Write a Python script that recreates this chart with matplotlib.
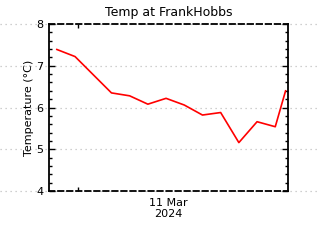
import matplotlib
matplotlib.use('Agg')
import matplotlib.pyplot as plt
import matplotlib.transforms as mtransforms
import numpy as np

# hours relative to 11 Mar 2024 00:00
hours = [-3.5, -0.5, 5.5, 8.5, 11.5, 14.5, 17.5, 20.5, 23.5, 26.5, 29.5, 32.5, 34.2]
temps = [7.39, 7.22, 6.35, 6.28, 6.08, 6.22, 6.06, 5.82, 5.88, 5.16, 5.66, 5.54, 6.40]
yticks = [4, 5, 6, 7, 8]

fig = plt.figure(figsize=(3.2, 2.4), dpi=100)
ax = fig.add_axes([0.153, 0.204, 0.747, 0.696])

# dotted grid across the whole figure width
trans = mtransforms.blended_transform_factory(fig.transFigure, ax.transData)
for yv in yticks:
    ax.plot([0, 1], [yv, yv], transform=trans, color='#c0c0c0', linestyle=(0, (1, 3)),
            linewidth=0.9, clip_on=False, zorder=0)

ax.plot(hours, temps, color='red', linewidth=1.2, zorder=3)

ax.set_xlim(-4.8, 34.6)
ax.set_ylim(4, 8)
ax.set_yticks(yticks)
ax.set_yticks(np.arange(4, 8.01, 0.2), minor=True)
ax.set_xticks([0])
ax.set_xticklabels([])
ax.tick_params(axis='y', which='major', direction='in', length=4, width=1,
               left=True, right=True, labelsize=8, pad=4)
ax.tick_params(axis='y', which='minor', direction='in', length=2, width=1,
               left=True, right=True)
ax.tick_params(axis='x', which='major', direction='in', length=3, width=1,
               top=True, bottom=True)

for side in ['top', 'bottom']:
    ax.spines[side].set_linestyle((0, (3, 2)))
    ax.spines[side].set_linewidth(1.3)
for side in ['left', 'right']:
    ax.spines[side].set_linewidth(1.3)

ax.set_title('Temp at FrankHobbs', fontsize=9, pad=6)
ax.set_ylabel('Temperature (\u00b0C)', fontsize=8, labelpad=2)
ax.text(0.5, -0.04, '11 Mar\n2024', transform=ax.transAxes, ha='center', va='top',
        fontsize=8, linespacing=1.2)

fig.savefig('out.png', dpi=100)
